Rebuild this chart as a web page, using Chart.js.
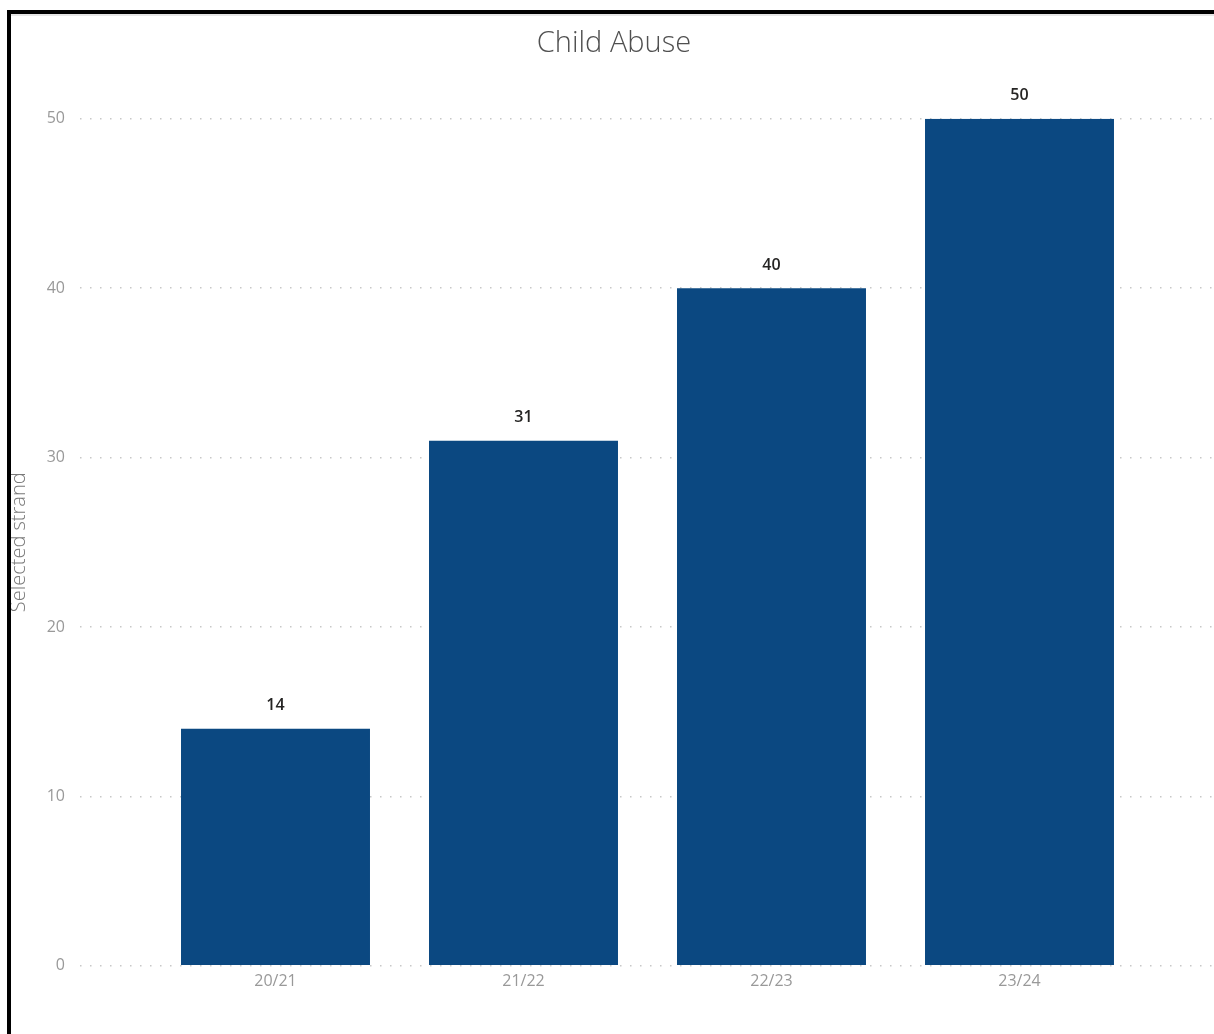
<!DOCTYPE html>
<html>
<head>
<meta charset="utf-8">
<title>Child Abuse</title>
<script src="https://cdn.jsdelivr.net/npm/chart.js@4/dist/chart.umd.min.js"></script>
<style>
    html, body { margin: 0; padding: 0; background: #fff; }
    #wrap { position: relative; width: 1214px; height: 1034px; overflow: hidden; }
    #frame {
        position: absolute; left: 7px; top: 10px; right: -10px; bottom: -10px;
        border-left: 4px solid #000; border-top: 4px solid #000;
        box-shadow: inset 0 2px 0 #e6e6e6;
        pointer-events: none;
    }
    /* kanvas digeser 7px supaya judul berada di tengah bingkai */
    canvas { position: absolute; left: 7px; top: 0; }
</style>
</head>
<body>
<div id="wrap">
    <canvas id="myBarChart" width="1214" height="1034"></canvas>
    <div id="frame"></div>
</div>
<script>
// Data
const categories = ['20/21', '21/22', '22/23', '23/24'];
const values = [14, 31, 40, 50];
const yTicks = [0, 10, 20, 30, 40, 50];

const fontFamily = '"Segoe UI", "Open Sans", "Noto Sans", sans-serif';

// Label angka di atas batang
const valueLabels = {
    id: 'valueLabels',
    afterDatasetsDraw(chart) {
        const ctx = chart.ctx;
        const meta = chart.getDatasetMeta(0);
        ctx.save();
        ctx.font = '600 16px ' + fontFamily;
        ctx.fillStyle = '#252423';
        ctx.textAlign = 'center';
        ctx.textBaseline = 'middle';
        meta.data.forEach(function(bar, i) {
            ctx.fillText(String(values[i]), bar.x, bar.y - 23);
        });
        ctx.restore();
    }
};

const ctxBar = document.getElementById('myBarChart').getContext('2d');
new Chart(ctxBar, {
    type: 'bar',
    data: {
        datasets: [{
            label: 'Selected strand',
            data: values.map(function(v, i) { return { x: i, y: v }; }),
            backgroundColor: '#0B4881',
            borderWidth: 0,
            barPercentage: 0.762,
            categoryPercentage: 1
        }]
    },
    options: {
        responsive: false,
        animation: false,
        devicePixelRatio: 1,
        layout: { padding: { left: 0, right: 0, top: 0, bottom: 45 } },
        plugins: {
            legend: { display: false },
            tooltip: { enabled: false },
            title: {
                display: true,
                text: 'Child Abuse',
                color: '#505050',
                font: { family: fontFamily, size: 29, weight: '300' },
                padding: { top: 26, bottom: 58 }
            }
        },
        scales: {
            x: {
                type: 'linear',
                offset: false,
                min: -0.7883,
                max: 3.8125,
                grid: { display: false },
                border: { display: false },
                afterBuildTicks(scale) {
                    scale.ticks = categories.map(function(c, i) { return { value: i }; });
                },
                ticks: {
                    includeBounds: false,
                    autoSkip: false,
                    maxRotation: 0,
                    padding: -2,
                    color: '#999999',
                    font: { family: fontFamily, size: 16 },
                    callback: function(value) { return categories[value]; }
                }
            },
            y: {
                min: 0,
                max: 50,
                afterBuildTicks(scale) {
                    scale.ticks = yTicks.map(function(v) { return { value: v }; });
                },
                afterFit(scale) { scale.width = 73; },
                border: { display: false, dash: [1.5, 8.5] },
                grid: {
                    color: '#c8c8c8',
                    lineWidth: 1.5,
                    drawTicks: false
                },
                ticks: {
                    padding: 15,
                    color: '#999999',
                    font: { family: fontFamily, size: 16 }
                },
                title: {
                    display: true,
                    text: 'Selected strand',
                    color: '#7a7a7a',
                    font: { family: fontFamily, size: 20, weight: '300' },
                    padding: { top: 0, bottom: 0 }
                }
            }
        }
    },
    plugins: [valueLabels]
});
</script>
</body>
</html>
